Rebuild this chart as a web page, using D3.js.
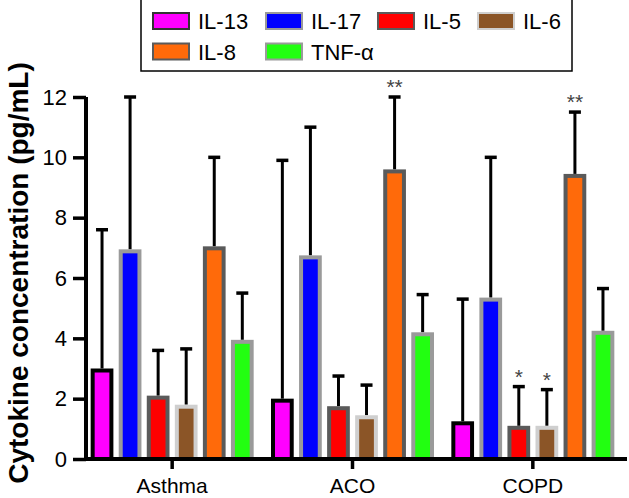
<!DOCTYPE html>
<html>
<head>
<meta charset="utf-8">
<script src="https://cdn.jsdelivr.net/npm/d3@7"></script>
<style>
  body { margin: 0; background: #fff; }
  text { font-family: "Liberation Sans", Arial, sans-serif; }
</style>
</head>
<body>
<script>
// data
const groups = ["Asthma", "ACO", "COPD"];
const cytokines = ["IL-13", "IL-17", "IL-5", "IL-6", "IL-8", "TNF-α"];
const means = [
  [3.0, 6.95, 2.1, 1.8, 7.05, 3.95],
  [2.0, 6.75, 1.75, 1.45, 9.6, 4.2],
  [1.25, 5.35, 1.1, 1.1, 9.45, 4.25]
];
const errTops = [
  [7.6, 12.0, 3.6, 3.65, 10.0, 5.5],
  [9.9, 11.0, 2.75, 2.45, 12.0, 5.45],
  [5.3, 10.0, 2.4, 2.3, 11.5, 5.65]
];
const stars = [
  ["", "", "", "", "", ""],
  ["", "", "", "", "**", ""],
  ["", "", "*", "*", "**", ""]
];
const yTicks = [0, 2, 4, 6, 8, 10, 12];

const fills = ["#ff00ff", "#0000ff", "#ff0000", "#8b5527", "#ff6a0a", "#22ff11"];
const borders = ["#000000", "#9a9a9a", "#5a5a5a", "#cfcfcf", "#5a5a5a", "#9a9a9a"];

const W = 629, H = 498;
const svg = d3.select("body").append("svg")
    .attr("width", W)
    .attr("height", H);

const x0 = d3.scaleBand().domain(groups).range([86, 627]).paddingInner(0).paddingOuter(0);
// group centres ~176, 357, 537
const x1 = d3.scaleBand().domain(cytokines).range([-81.5, 81.5]).paddingInner(0.19);
const y = d3.scaleLinear().domain([0, 12]).range([459, 97]);

function cx(g) { return x0(g) + x0.bandwidth() / 2 - 4; }

// bars
groups.forEach(function (g, gi) {
  cytokines.forEach(function (c, ci) {
    const left = cx(g) + x1(c);
    const bw = x1.bandwidth();
    const mid = left + bw / 2;
    // error bar
    svg.append("line")
        .attr("x1", mid).attr("x2", mid)
        .attr("y1", y(means[gi][ci])).attr("y2", y(errTops[gi][ci]))
        .style("stroke", "#000").style("stroke-width", 3);
    svg.append("line")
        .attr("x1", mid - 6).attr("x2", mid + 6)
        .attr("y1", y(errTops[gi][ci])).attr("y2", y(errTops[gi][ci]))
        .style("stroke", "#000").style("stroke-width", 3.5);
    svg.append("rect")
        .attr("x", left + 2)
        .attr("y", y(means[gi][ci]) + 2)
        .attr("width", bw - 4)
        .attr("height", y(0) - y(means[gi][ci]) - 2)
        .style("fill", fills[ci])
        .style("stroke", borders[ci])
        .style("stroke-width", 4);
    if (stars[gi][ci]) {
      svg.append("text")
          .attr("x", mid)
          .attr("y", y(errTops[gi][ci]) - 3)
          .attr("text-anchor", "middle")
          .style("font-size", "21px")
          .style("fill", "#444")
          .text(stars[gi][ci]);
    }
  });
});

// y axis
const yAxis = svg.append("g")
    .attr("transform", "translate(86,0)")
    .call(d3.axisLeft(y).tickValues(yTicks).tickSize(13).tickPadding(6).tickFormat(d3.format("d")));
yAxis.select(".domain").attr("d", "M0," + y(12) + "V" + y(0)).style("stroke-width", 4).style("stroke", "#000");
yAxis.selectAll(".tick line").style("stroke-width", 3.5).style("stroke", "#000");
yAxis.selectAll(".tick text").style("font-size", "22px").style("fill", "#000")
    .style("font-family", "'Liberation Sans', Arial, sans-serif");

// x axis
const xAxis = svg.append("g")
    .attr("transform", "translate(0," + y(0) + ")");
xAxis.append("line")
    .attr("x1", 84).attr("x2", 627)
    .style("stroke", "#000").style("stroke-width", 4);
groups.forEach(function (g) {
  xAxis.append("line")
      .attr("x1", cx(g)).attr("x2", cx(g))
      .attr("y1", 0).attr("y2", 10)
      .style("stroke", "#000").style("stroke-width", 3.5);
  xAxis.append("text")
      .attr("x", cx(g)).attr("y", 34)
      .attr("text-anchor", "middle")
      .style("font-size", "21px")
      .text(g);
});

// y title
svg.append("text")
    .attr("transform", "translate(28,273) rotate(-90)")
    .attr("text-anchor", "middle")
    .style("font-size", "28px")
    .style("font-weight", "bold")
    .text("Cytokine concentration (pg/mL)");

// legend
const legend = svg.append("g");
legend.append("rect")
    .attr("x", 141).attr("y", -1)
    .attr("width", 431).attr("height", 72)
    .style("fill", "#fff").style("stroke", "#000").style("stroke-width", 1.5);
const colX = [153, 266, 378, 478];
cytokines.forEach(function (c, ci) {
  const col = ci < 4 ? ci : ci - 4;
  const row = ci < 4 ? 0 : 1;
  const ly = row === 0 ? 21 : 51.5;
  legend.append("rect")
      .attr("x", colX[col]).attr("y", ly - 8)
      .attr("width", 36).attr("height", 16)
      .style("fill", fills[ci])
      .style("stroke", ci === 0 ? "#333" : borders[ci])
      .style("stroke-width", 2);
  legend.append("text")
      .attr("x", colX[col] + 45).attr("y", ly + 8)
      .style("font-size", "22px")
      .text(c);
});
</script>
</body>
</html>
